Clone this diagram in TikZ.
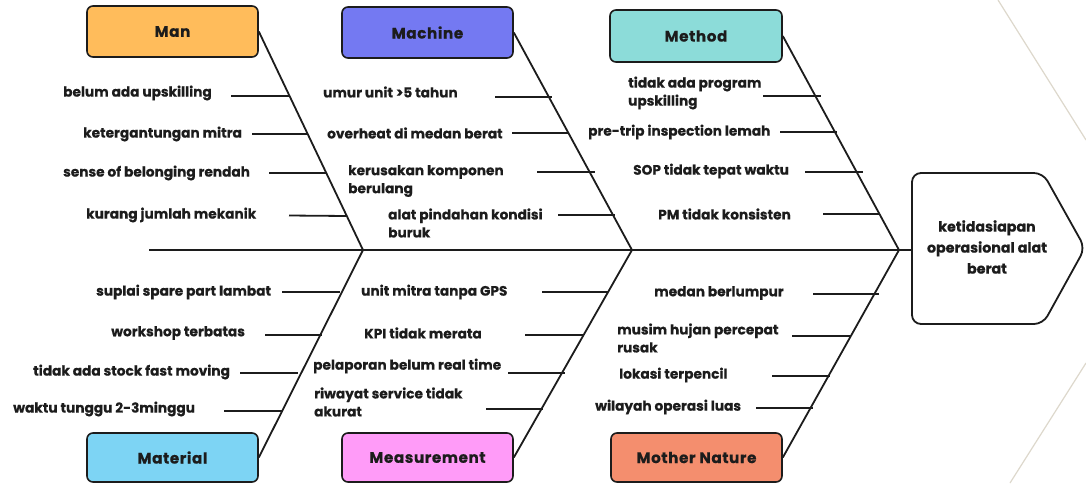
\documentclass[tikz,border=0pt]{standalone}
\usepackage{fontspec}
\setmainfont{Poppins}
\definecolor{manC}{HTML}{FFBC5B}
\definecolor{machC}{HTML}{7479F2}
\definecolor{methC}{HTML}{8CDCD9}
\definecolor{matC}{HTML}{7DD4F4}
\definecolor{measC}{HTML}{FF9BF8}
\definecolor{natC}{HTML}{F48E6E}
\definecolor{beigeC}{HTML}{DDD8CC}
\definecolor{inkC}{HTML}{1C1C1C}
\begin{document}
\begin{tikzpicture}[x=1pt,y=-1pt,
  cat/.style={draw=inkC, line width=1.6pt, rounded corners=6pt, minimum width=171pt, minimum height=51pt, inner sep=0pt, font=\bfseries\fontsize{15.2}{17}\selectfont\addfontfeatures{LetterSpace=4,FakeBold=0.5}, text=inkC},
  lbl/.style={font=\bfseries\fontsize{13.7}{18}\selectfont\addfontfeatures{FakeBold=0.5}, text=inkC, align=left, inner sep=0pt, anchor=west},
  bone/.style={line width=1.8pt, draw=inkC},
  spine/.style={line width=2.2pt, draw=inkC},
  headbox/.style={draw=inkC, line width=1.8pt, rounded corners=9pt, fill=white}]
\useasboundingbox (0,0) rectangle (1086,483);
\fill[white] (0,0) rectangle (1086,483);
% faint background chevron
\draw[beigeC, line width=1.2pt] (998,0) -- (1086,140);
\draw[beigeC, line width=1.2pt] (1086,363) -- (1010,483);

% category boxes
\node[cat, fill=manC, minimum height=51pt] (man) at (172.5,31.5) {Man};
\node[cat, fill=machC, minimum height=51pt] (machine) at (427.5,32.5) {Machine};
\node[cat, fill=methC, minimum width=172pt, minimum height=52pt] (method) at (696,36) {Method};
\node[cat, fill=matC, minimum height=49pt] (material) at (172.5,457.5) {Material};
\node[cat, fill=measC, minimum height=49pt] (measurement) at (427.5,457.5) {Measurement};
\node[cat, fill=natC, minimum height=49pt] (nature) at (696.5,457.5) {Mother Nature};

% head
\draw[headbox] (912,173) -- (1043,173) -- (1085,248) -- (1043,324) -- (912,324) -- cycle;
\node[font=\bfseries\fontsize{14.2}{21}\selectfont\addfontfeatures{FakeBold=0.5}, text=inkC, align=center, inner sep=0pt] (head) at (987,247) {ketidasiapan\\operasional alat\\berat};

% spine and junctions
\coordinate (tail) at (149,250);
\coordinate (headL) at (912,250);
\coordinate (j1) at (363,250);
\coordinate (j2) at (632,250);
\coordinate (j3) at (899,250);
\draw[spine] (tail) -- (headL);

% main bones
\draw[bone] (man.east) -- (j1);
\draw[bone] (machine.east) -- (j2);
\draw[bone] (method.east) -- (j3);
\draw[bone] (material.east) -- (j1);
\draw[bone] (measurement.east) -- (j2);
\draw[bone] (nature.east) -- (j3);

% Man
\node[lbl] (l1) at (63,93) {belum ada upskilling};
\node[lbl] (l2) at (83,134) {ketergantungan mitra};
\node[lbl] (l3) at (63,173) {sense of belonging rendah};
\node[lbl] (l4) at (86,215) {kurang jumlah mekanik};
\coordinate (s1) at (231,96);  \coordinate (e1) at (290,96);
\coordinate (s2) at (252,134); \coordinate (e2) at (308,134);
\coordinate (s3) at (269,173); \coordinate (e3) at (327,173);
\coordinate (s4) at (289,215.5); \coordinate (e4) at (347,216);
% Machine
\node[lbl] (l5) at (323,92) {umur unit >5 tahun};
\node[lbl] (l6) at (327,133) {overheat di medan berat};
\node[lbl] (l7) at (348,181) {kerusakan komponen\\berulang};
\node[lbl] (l8) at (388,223) {alat pindahan kondisi\\buruk};
\coordinate (s5) at (495,97);  \coordinate (e5) at (552,97);
\coordinate (s6) at (512,133); \coordinate (e6) at (568,133);
\coordinate (s7) at (537,172); \coordinate (e7) at (595,172);
\coordinate (s8) at (558,215); \coordinate (e8) at (615,215);
% Method
\node[lbl] (l9) at (628,93) {tidak ada program\\upskilling};
\node[lbl] (l10) at (588,132) {pre-trip inspection lemah};
\node[lbl] (l11) at (633,171) {SOP tidak tepat waktu};
\node[lbl] (l12) at (658,214) {PM tidak konsisten};
\coordinate (s9) at (763,96);   \coordinate (e9) at (821,96);
\coordinate (s10) at (780,132); \coordinate (e10) at (837,132);
\coordinate (s11) at (805,172); \coordinate (e11) at (863,172);
\coordinate (s12) at (823,214); \coordinate (e12) at (880,214);
% Material
\node[lbl] (l13) at (96,292) {suplai spare part lambat};
\node[lbl] (l14) at (111,333) {workshop terbatas};
\node[lbl] (l15) at (33,372) {tidak ada stock fast moving};
\node[lbl] (l16) at (13,409) {waktu tunggu 2-3minggu};
\coordinate (s13) at (282,292); \coordinate (e13) at (340,292);
\coordinate (s14) at (265,335); \coordinate (e14) at (322,335);
\coordinate (s15) at (240,373); \coordinate (e15) at (298,373);
\coordinate (s16) at (224,411); \coordinate (e16) at (283,411);
% Measurement
\node[lbl] (l17) at (361,292) {unit mitra tanpa GPS};
\node[lbl] (l18) at (364,333) {KPI tidak merata};
\node[lbl] (l19) at (313,366) {pelaporan belum real time};
\node[lbl] (l20) at (314,402) {riwayat service tidak\\akurat};
\coordinate (s17) at (542,292); \coordinate (e17) at (608,292);
\coordinate (s18) at (525,335); \coordinate (e18) at (583,335);
\coordinate (s19) at (508,373); \coordinate (e19) at (565,373);
\coordinate (s20) at (486,409); \coordinate (e20) at (543,409);
% Mother Nature
\node[lbl] (l21) at (654,293) {medan berlumpur};
\node[lbl] (l22) at (617,338) {musim hujan percepat\\rusak};
\node[lbl] (l23) at (619,375) {lokasi terpencil};
\node[lbl] (l24) at (595,407) {wilayah operasi luas};
\coordinate (s21) at (813,294); \coordinate (e21) at (879,294);
\coordinate (s22) at (792,336); \coordinate (e22) at (850,336);
\coordinate (s23) at (772,376); \coordinate (e23) at (830,376);
\coordinate (s24) at (756,408); \coordinate (e24) at (813,408);

\foreach \i in {1,...,24} { \draw[bone] (s\i) -- (e\i); }
\end{tikzpicture}
\end{document}
